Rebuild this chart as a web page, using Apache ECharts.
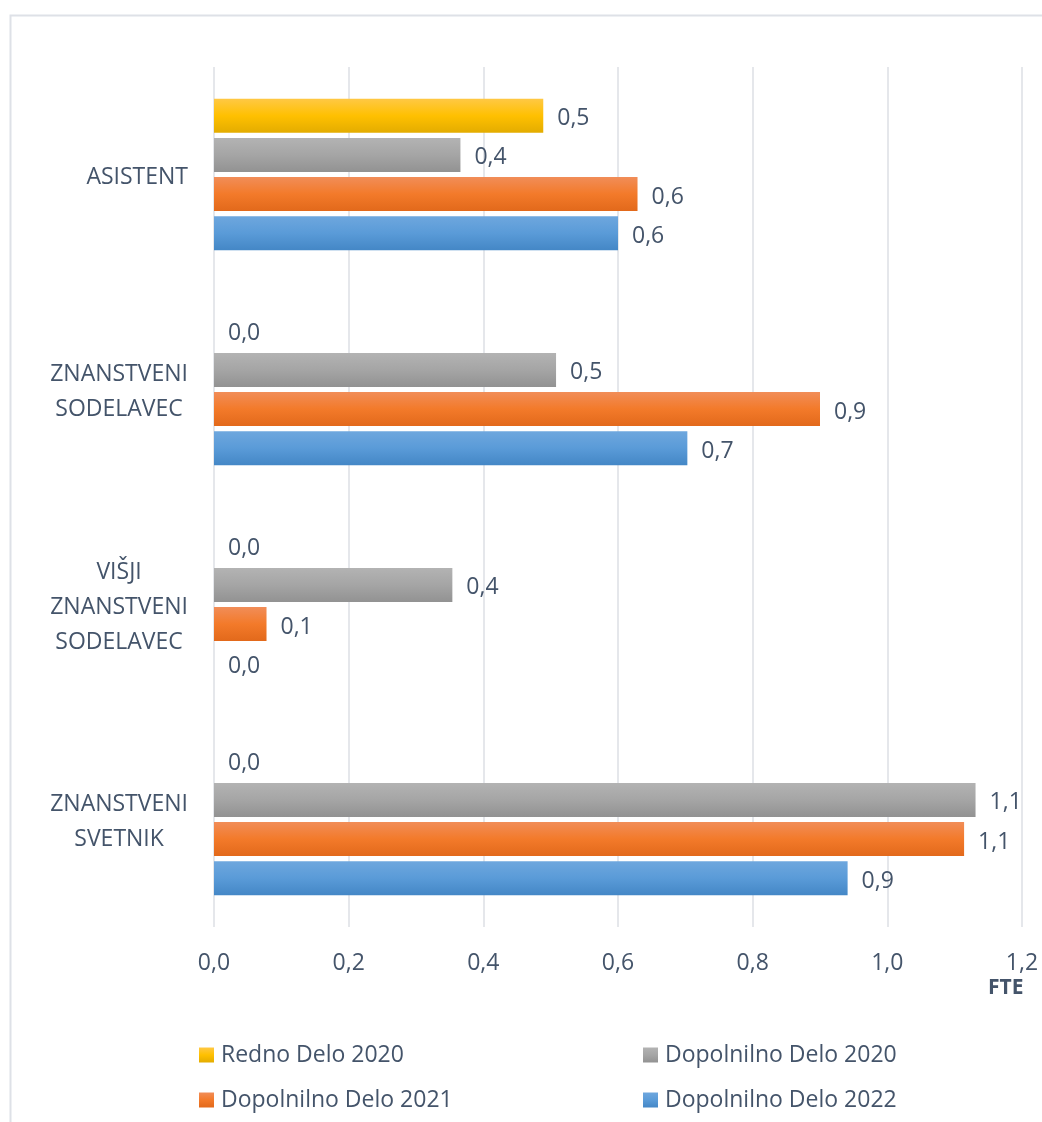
<!DOCTYPE html>
<html>
<head>
<meta charset="utf-8">
<script src="https://cdn.jsdelivr.net/npm/echarts@6/dist/echarts.min.js"></script>
<style>
html,body{margin:0;padding:0;background:#fff;}
#chart{width:1042px;height:1122px;}
</style>
</head>
<body>
<div id="chart"></div>
<script>
const categories = ['ASISTENT', 'ZNANSTVENI\nSODELAVEC', 'VIŠJI\nZNANSTVENI\nSODELAVEC', 'ZNANSTVENI\nSVETNIK'];
const seriesNames = ['Redno Delo 2020', 'Dopolnilno Delo 2020', 'Dopolnilno Delo 2021', 'Dopolnilno Delo 2022'];
const rednoDelo2020 = [0.489, 0, 0, 0];
const dopolnilnoDelo2020 = [0.366, 0.508, 0.354, 1.131];
const dopolnilnoDelo2021 = [0.629, 0.900, 0.078, 1.114];
const dopolnilnoDelo2022 = [0.600, 0.703, 0, 0.941];
const xTicks = [0, 0.2, 0.4, 0.6, 0.8, 1.0, 1.2];
const axisTitle = 'FTE';

const TXT = '#44546A';
const FONT = '"Open Sans", sans-serif';
const FS = 23;
const grad = (a, b, c) => new echarts.graphic.LinearGradient(0, 0, 0, 1, [
  {offset: 0, color: a}, {offset: 0.5, color: b}, {offset: 1, color: c}
]);
const fills = [
  grad('#FFC844', '#FFC000', '#E3AC00'),
  grad('#B3B3B3', '#A5A5A5', '#929292'),
  grad('#F18D58', '#F37A2A', '#E2691B'),
  grad('#6EA7DE', '#5A9BD8', '#4487C6')
];
const values = [rednoDelo2020, dopolnilnoDelo2020, dopolnilnoDelo2021, dopolnilnoDelo2022];
const fmt = v => Number(v).toFixed(1).replace('.', ',');

const series = seriesNames.map((name, i) => ({
  name: name,
  type: 'bar',
  data: values[i],
  barWidth: 34,
  barGap: '15%',
  itemStyle: {color: fills[i]},
  label: {
    show: true,
    position: 'right',
    distance: 14,
    offset: [0, 3],
    color: TXT,
    fontFamily: FONT,
    fontSize: FS,
    formatter: p => fmt(p.value)
  }
}));

const legendPos = [[199, 1040], [643, 1040], [199, 1085], [643, 1085]];
const legends = seriesNames.map((name, i) => ({
  data: [name],
  left: legendPos[i][0],
  top: legendPos[i][1],
  padding: 0,
  itemWidth: 15,
  itemHeight: 15,
  icon: 'rect',
  selectedMode: false,
  textStyle: {color: TXT, fontFamily: FONT, fontSize: FS, lineHeight: 28, padding: [2, 0, 0, 2]}
}));

const chart = echarts.init(document.getElementById('chart'), null, {renderer: 'canvas'});
chart.setOption({
  animation: false,
  backgroundColor: '#fff',
  grid: {left: 214, right: 20, top: 67, bottom: 195, containLabel: false},
  xAxis: {
    type: 'value',
    min: xTicks[0],
    max: xTicks[xTicks.length - 1],
    interval: 0.2,
    axisLine: {show: false},
    axisTick: {show: false},
    splitLine: {show: true, lineStyle: {color: '#DCDFE5', width: 1.5}},
    axisLabel: {
      color: TXT, fontFamily: FONT, fontSize: FS, margin: 25,
      formatter: v => fmt(v)
    }
  },
  yAxis: {
    type: 'category',
    data: categories,
    inverse: true,
    axisLine: {show: false},
    axisTick: {show: false},
    axisLabel: {
      color: TXT, fontFamily: FONT, fontSize: FS, lineHeight: 35,
      align: 'right', margin: 26, padding: [5, 0, 0, 0],
      formatter: v => v.split('\n').map(l => '{c|' + l + '}').join('\n'),
      rich: {
        c: {align: 'center', color: TXT, fontFamily: FONT, fontSize: FS, lineHeight: 35}
      }
    }
  },
  legend: legends,
  series: series,
  graphic: [
    {
      type: 'rect', left: 8, top: 13, silent: true, z: -10,
      shape: {x: 0, y: 0, width: 1100, height: 1200},
      style: {fill: 'none', stroke: '#DEE1E7', lineWidth: 2}
    },
    {
      type: 'text', left: 988, top: 978,
      style: {text: axisTitle, fill: TXT, font: 'bold 21px "Open Sans", sans-serif'}
    }
  ]
});
</script>
</body>
</html>
